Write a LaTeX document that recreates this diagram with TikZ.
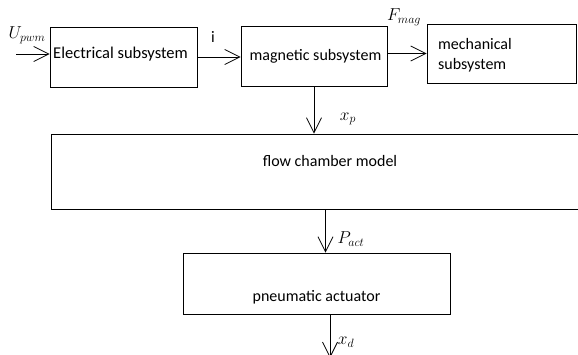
\documentclass[tikz,border=0pt]{standalone}
\usepackage{fontspec}
\setmainfont{Carlito}
\usetikzlibrary{arrows.meta,calc}
\tikzset{
  blk/.style={draw, line width=0.9pt, rectangle, inner sep=0pt},
  flw/.style={line width=0.8pt, -{Straight Barb[length=15pt,width=15pt,line width=0.8pt]}},
  txt/.style={inner sep=0pt, font=\fontsize{16}{20}\selectfont},
  lbl/.style={inner sep=0pt, font=\fontsize{16.5}{18}\selectfont},
}
\begin{document}
\begin{tikzpicture}[x=1pt,y=-1pt]
\clip (0,0) rectangle (578,354);
\fill[white] (0,0) rectangle (578,354);
% boxes
\node[blk, minimum width=147pt, minimum height=60pt] (elec) at (123.5,57) {};
\node[blk, minimum width=146pt, minimum height=60pt] (mag) at (314,56) {};
\node[blk, minimum width=149pt, minimum height=59pt] (mech) at (501.5,53.5) {};
\node[blk, minimum width=549pt, minimum height=75pt] (flow) at (325.5,171.5) {};
\node[blk, minimum width=267pt, minimum height=61pt] (pneu) at (316.5,283.5) {};
% texts
\node[txt, font=\fontsize{16.5}{20}\selectfont] (telec) at (120.5,54) {Electrical subsystem};
\node[txt] (tmag) at (315.5,56) {magnetic subsystem};
\node[txt, align=left, anchor=west] (tmech) at (438,55.5) {mechanical\\subsystem};
\node[txt] (tflow) at (330,161) {flow chamber model};
\node[txt] (tpneu) at (316.5,297) {pneumatic actuator};
% connectors
\coordinate (uin) at (16,54);
\coordinate (xd) at (330,358);
\draw[flw] (uin) -- (uin -| elec.west);
\draw[flw] (elec.east) -- (elec.east -| mag.west);
\draw[flw] (mech.west -| mag.east) -- (mech.west);
\draw[flw] (mag.south) -- (mag.south |- flow.north);
\draw[flw] (flow.south) -- (flow.south |- pneu.north);
\draw[flw] (xd |- pneu.south) -- (xd);
% labels
\node[lbl] (lu) at (27,35) {$U_{pwm}$};
\node[txt] (li) at (213,37) {i};
\node[lbl] (lf) at (404,17) {$F_{mag}$};
\node[lbl] (lxp) at (348,119) {$x_p$};
\node[lbl] (lp) at (351,239) {$P_{act}$};
\node[lbl] (lxd) at (346,342) {$x_d$};
\end{tikzpicture}
\end{document}
